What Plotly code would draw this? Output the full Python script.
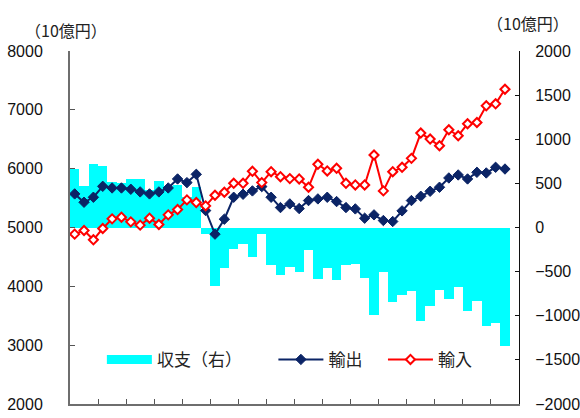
import plotly.graph_objects as go

# Quarterly series, 47 periods (unit: 10億円)
periods = list(range(47))

exports = [5571, 5429, 5514, 5700, 5672, 5672, 5650, 5605, 5571, 5605,
           5672, 5825, 5763, 5904, 5288, 4887, 5141, 5514, 5565, 5622,
           5695, 5514, 5339, 5401, 5322, 5458, 5486, 5514, 5441, 5339,
           5316, 5158, 5215, 5119, 5102, 5283, 5458, 5531, 5616, 5684,
           5842, 5893, 5825, 5938, 5927, 6023, 5994]

imports = [4887, 4949, 4791, 4983, 5147, 5175, 5096, 5040, 5158, 5051,
           5215, 5305, 5469, 5424, 5367, 5548, 5599, 5751, 5751, 5955,
           5763, 5949, 5864, 5831, 5825, 5684, 6074, 5961, 6006, 5751,
           5723, 5723, 6232, 5622, 5949, 6023, 6175, 6605, 6503, 6390,
           6661, 6559, 6763, 6785, 7068, 7102, 7350]

balance = [663, 475, 723, 697, 516, 501, 550, 554, 422, 527,
           471, 480, 350, 456, -75, -659, -459, -241, -188, -339,
           -72, -429, -535, -444, -508, -252, -580, -456, -591, -429,
           -410, -572, -994, -505, -847, -761, -718, -1057, -887, -711,
           -812, -669, -944, -838, -1120, -1087, -1339]

names = ["収支（右）", "輸出", "輸入"]
unit_label = "（10億円）"

CYAN = "#00FFFF"
NAVY = "#0B2466"
RED = "#FF0000"
JP_FONT = "Noto Sans CJK JP"
NUM_FONT = "Liberation Sans"

fig = go.Figure()

# Balance bars on the right-hand axis (primary y, drawn underneath)
fig.add_trace(go.Bar(
    x=periods, y=balance, yaxis="y", width=1.0,
    marker=dict(color=CYAN, line=dict(width=0)),
    showlegend=False, legendgroup="bal",
))
# Legend swatch for the bars: a thick cyan stroke
fig.add_trace(go.Scatter(
    x=[None], y=[None], yaxis="y", mode="lines", name=names[0],
    line=dict(color=CYAN, width=9), legend="legend", legendgroup="bal",
))

# Export / import lines on the left-hand axis
fig.add_trace(go.Scatter(
    x=periods, y=exports, yaxis="y2", mode="lines+markers", name=names[1],
    line=dict(color=NAVY, width=2),
    marker=dict(symbol="diamond", size=8, color=NAVY, line=dict(color=NAVY, width=1)),
    legend="legend2",
))
fig.add_trace(go.Scatter(
    x=periods, y=imports, yaxis="y2", mode="lines+markers", name=names[2],
    line=dict(color=RED, width=2),
    marker=dict(symbol="diamond", size=7, color="white", line=dict(color=RED, width=2)),
    legend="legend3",
))

legend_common = dict(
    orientation="h", yanchor="middle", y=0.125, xanchor="left",
    bgcolor="rgba(0,0,0,0)", itemwidth=45,
    font=dict(family=JP_FONT, size=17, color="#222222"),
)

fig.update_layout(
    width=580, height=418,
    margin=dict(l=70, r=61, t=51, b=14),
    paper_bgcolor="white", plot_bgcolor="white",
    template="none",
    bargap=0,
    xaxis=dict(
        range=[-0.5, 47.5], tick0=-0.5, dtick=3, ticks="inside", ticklen=5,
        tickcolor="#555555", showticklabels=False, showgrid=False,
        showline=True, linecolor="#6e6e6e", linewidth=2, zeroline=False,
    ),
    yaxis=dict(
        side="right", range=[-2000, 2000], dtick=500, ticks="inside", ticklen=4,
        tickcolor="#111111", showgrid=False, zeroline=False,
        showline=True, linecolor="#111111", linewidth=1,
        ticklabelstandoff=12,
        tickfont=dict(family=NUM_FONT, size=16, color="#111111"),
    ),
    yaxis2=dict(
        side="left", overlaying="y", range=[2000, 8000], dtick=1000,
        ticks="inside", ticklen=5, tickcolor="#555555",
        showgrid=False, zeroline=False,
        showline=True, linecolor="#6e6e6e", linewidth=2,
        ticklabelstandoff=22,
        tickfont=dict(family=NUM_FONT, size=16, color="#111111"),
    ),
    legend=dict(x=0.071, **legend_common),
    legend2=dict(x=0.453, **legend_common),
    legend3=dict(x=0.697, **legend_common),
    annotations=[
        dict(text=unit_label, xref="paper", yref="paper", x=-0.009, y=1.06,
             xanchor="center", yanchor="middle", showarrow=False,
             font=dict(family=JP_FONT, size=16, color="#222222")),
        dict(text=unit_label, xref="paper", yref="paper", x=1.02, y=1.08,
             xanchor="center", yanchor="middle", showarrow=False,
             font=dict(family=JP_FONT, size=16, color="#222222")),
    ],
)

fig.write_html("out.html")
